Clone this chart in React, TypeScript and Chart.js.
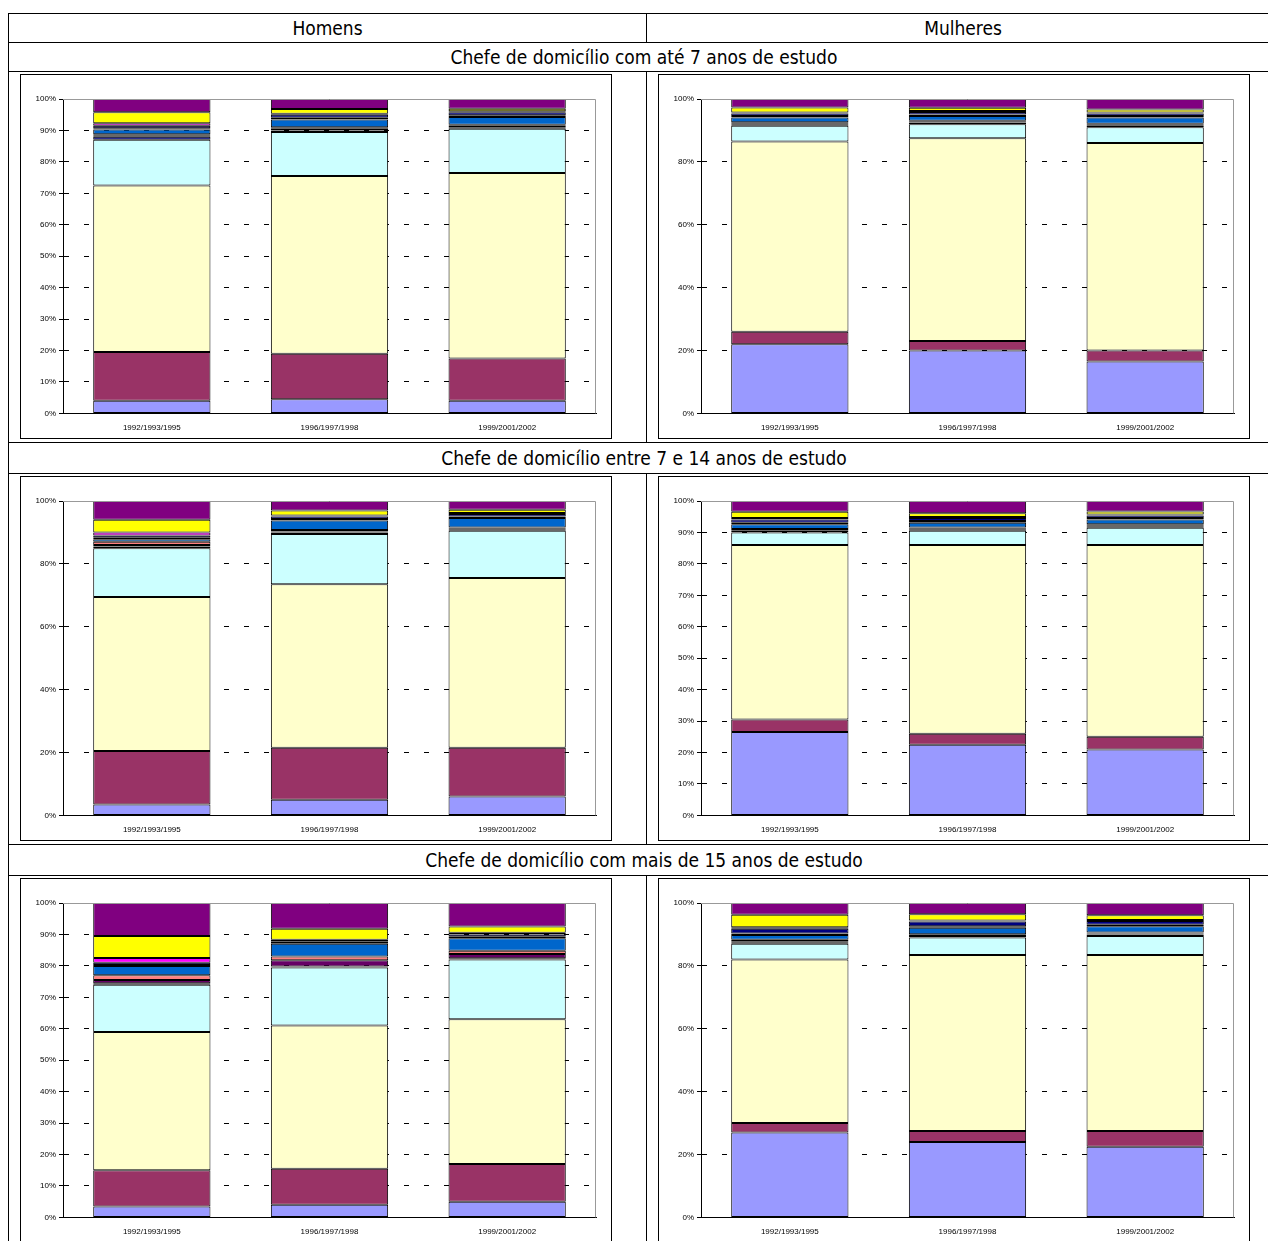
import { useEffect, useRef } from "react";
import { Chart, registerables } from "chart.js";

Chart.register(...registerables);

const periods = ["1992/1993/1995", "1996/1997/1998", "1999/2001/2002"];

const colors = [
  "#9999FF", "#993366", "#FFFFCC", "#CCFFFF", "#000080", "#660066",
  "#FF8080", "#0066CC", "#CCCCFF", "#000080", "#FF00FF", "#FFFF00", "#800080",
];

// one row per series (bottom to top), one value per period
const homensAte7 = [
  [4, 4.5, 4], [15.5, 14.5, 13.5], [53, 56.5, 59], [14.5, 14, 14],
  [1, 0.5, 0.5], [0.5, 0.5, 0.5], [0.3, 0.5, 0.3], [1.5, 2.5, 2.5],
  [0.4, 0.5, 0.5], [0.8, 1, 1], [0.8, 0.3, 0.3], [3.5, 1.5, 0.8], [4.2, 3.2, 3.1],
];
const mulheresAte7 = [
  [22, 20, 16.5], [4, 3, 3.5], [60.5, 64.5, 66], [5, 4.5, 5],
  [0.5, 0.5, 0.5], [0.3, 0.3, 0.3], [0.3, 0.3, 0.3], [1.5, 1.5, 2],
  [0.5, 0.5, 0.5], [0.8, 0.8, 0.8], [0.3, 0.3, 0.3], [1.6, 1, 1], [2.7, 2.8, 3.3],
];
const homensEntre = [
  [3.5, 5, 6], [17, 16.5, 15.5], [49, 52, 54], [15.5, 16, 15],
  [0.5, 0.5, 0.5], [0.5, 0.3, 0.3], [1, 0.5, 0.3], [0.8, 3, 3],
  [0.5, 0.5, 0.5], [0.7, 0.8, 0.8], [1, 0.3, 0.3], [4, 1.6, 1], [6, 3, 2.8],
];
const mulheresEntre = [
  [26.5, 22.5, 21], [4, 3.5, 4], [55.5, 60, 61], [4, 4.5, 5.5],
  [0.5, 0.5, 0.5], [0.3, 0.3, 0.3], [0.3, 0.3, 0.3], [1.5, 1.5, 1.5],
  [0.5, 0.5, 0.5], [1, 1, 0.8], [0.5, 0.3, 0.3], [2, 1.2, 1], [3.4, 3.9, 3.3],
];
const homensMais15 = [
  [3.5, 4, 5], [11.5, 11.5, 12], [44, 45.5, 46], [15, 18.5, 19],
  [0.5, 0.3, 0.4], [1, 2, 1.4], [1.5, 1.2, 1], [3, 4, 4],
  [0.3, 0.3, 0.5], [0.7, 0.5, 0.7], [1.5, 0.5, 0.5], [7, 3.5, 2], [10.5, 8.2, 7.5],
];
const mulheresMais15 = [
  [27, 24, 22.5], [3, 3.5, 5], [52, 56, 56], [5, 5.5, 6],
  [0.5, 0.5, 0.5], [0.3, 0.3, 0.3], [0.5, 0.3, 0.3], [1.5, 2, 2],
  [0.5, 0.5, 0.5], [1.5, 1.5, 1.2], [0.5, 0.3, 0.3], [4, 2, 1.5], [3.7, 3.6, 3.9],
];

const frame = {
  id: "frame",
  afterDatasetsDraw(chart: Chart) {
    const { ctx, chartArea: a } = chart;
    ctx.save();
    ctx.strokeStyle = "#999";
    ctx.lineWidth = 1;
    ctx.beginPath();
    ctx.moveTo(a.left, a.top + 0.5);
    ctx.lineTo(a.right - 0.5, a.top + 0.5);
    ctx.lineTo(a.right - 0.5, a.bottom);
    ctx.stroke();
    ctx.restore();
  },
};

function StackChart({ series, step }: { series: number[][]; step: number }) {
  const ref = useRef<HTMLCanvasElement>(null);
  useEffect(() => {
    if (!ref.current) return;
    const chart = new Chart(ref.current, {
      type: "bar",
      data: {
        labels: periods,
        datasets: series.map((v, i) => ({
          data: v,
          backgroundColor: colors[i],
          borderColor: "#000",
          borderWidth: 1,
          borderSkipped: false,
          barPercentage: 0.66,
          categoryPercentage: 1,
        })),
      },
      options: {
        animation: false,
        responsive: false,
        layout: { padding: { top: 24, right: 15, bottom: 3, left: 10 } },
        plugins: { legend: { display: false }, tooltip: { enabled: false } },
        scales: {
          x: {
            stacked: true,
            grid: { display: false },
            border: { color: "#000" },
            ticks: { color: "#000", font: { family: "Arial, Liberation Sans", size: 8 }, maxRotation: 0, padding: 2 },
          },
          y: {
            stacked: true,
            min: 0,
            max: 100,
            afterFit: (s: any) => { s.width = 32; },
            grid: { color: "#000", tickLength: 4, tickBorderDash: [], drawTicks: true },
            border: { color: "#000", dash: [5, 15] },
            ticks: {
              stepSize: step,
              color: "#000",
              font: { family: "Arial, Liberation Sans", size: 8 },
              callback: (v: any) => v + "%",
            },
          },
        },
      },
      plugins: [frame],
    });
    return () => chart.destroy();
  }, [series, step]);
  return (
    <div style={{ border: "1px solid #000", width: 590, height: 363, margin: "2px 0 0 11px", background: "#fff" }}>
      <canvas ref={ref} width={590} height={363} style={{ display: "block" }} />
    </div>
  );
}

const cell = { border: "1px solid #000", padding: 0 } as const;
const title = {
  ...cell,
  textAlign: "center" as const,
  fontSize: 19,
  height: 28,
  fontFamily: "'DejaVu Sans Condensed', 'Liberation Sans Narrow', sans-serif",
  fontStretch: "condensed",
  lineHeight: "28px",
};

export default function App() {
  const rows = [
    ["Chefe de domicílio com até 7 anos de estudo", homensAte7, 10, mulheresAte7, 20],
    ["Chefe de domicílio entre 7 e 14 anos de estudo", homensEntre, 20, mulheresEntre, 10],
    ["Chefe de domicílio com mais de 15 anos de estudo", homensMais15, 10, mulheresMais15, 20],
  ] as const;
  return (
    <table style={{ borderCollapse: "collapse", width: 1272, marginTop: 5, tableLayout: "fixed" }}>
      <tbody>
        <tr>
          <td style={{ ...title, width: 637 }}>Homens</td>
          <td style={title}>Mulheres</td>
        </tr>
        {rows.map(([t, h, hs, m, ms], i) => [
          <tr key={t + "t"}>
            <td colSpan={2} style={{ ...title, height: i === 0 ? 28 : 30 }}>{t}</td>
          </tr>,
          <tr key={t + "c"}>
            <td style={{ ...cell, height: 370, verticalAlign: "top" }}>
              <StackChart series={h as any} step={hs as number} />
            </td>
            <td style={{ ...cell, height: 370, verticalAlign: "top" }}>
              <StackChart series={m as any} step={ms as number} />
            </td>
          </tr>,
        ])}
      </tbody>
    </table>
  );
}
